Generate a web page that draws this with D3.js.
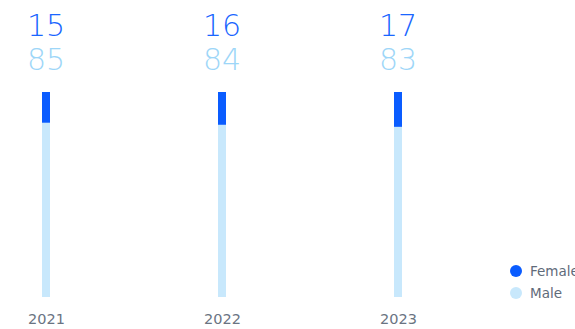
<!DOCTYPE html>
<html>
<head>
<meta charset="utf-8">
<script src="https://cdn.jsdelivr.net/npm/d3@7"></script>
<style>
  html, body { margin: 0; padding: 0; background: #fff; overflow: hidden; }
  svg { display: block; font-family: "DejaVu Sans", sans-serif; }
</style>
</head>
<body>
<svg id="chart" width="575" height="329"></svg>
<script>
// Share of staff by gender, per year (percent)
const years = ["2021", "2022", "2023"];
const female = [15, 16, 17];
const male = [85, 84, 83];
const seriesNames = ["Female", "Male"];
const seriesColors = ["#0a5cff", "#c8e8fc"];
const labelColors = ["#1a66ff", "#9dd6f8"];

const svg = d3.select("#chart");

const x = d3.scalePoint().domain(years).range([46, 398]);
const y = d3.scaleLinear().domain([0, 100]).range([297, 92]);
const barW = 8;

const rows = years.map((yr, i) => ({ year: yr, Female: female[i], Male: male[i] }));
const stack = d3.stack().keys(["Male", "Female"])(rows);

svg.append("g").selectAll("g").data(stack).join("g")
  .attr("fill", d => seriesColors[seriesNames.indexOf(d.key)])
  .selectAll("rect").data(d => d).join("rect")
  .attr("x", d => x(d.data.year) - barW / 2)
  .attr("y", d => y(d[1]))
  .attr("width", barW)
  .attr("height", d => y(d[0]) - y(d[1]));

// Value labels above each bar
const lbl = svg.append("g").attr("text-anchor", "middle")
  .style("font-weight", 200).style("font-size", "30px");
lbl.selectAll(".f").data(rows).join("text")
  .attr("x", d => x(d.year)).attr("y", 36)
  .attr("fill", labelColors[0]).text(d => d.Female);
lbl.selectAll(".m").data(rows).join("text")
  .attr("x", d => x(d.year)).attr("y", 70)
  .attr("fill", labelColors[1]).text(d => d.Male);

// Year axis
const axis = svg.append("g").attr("transform", "translate(0,314)")
  .call(d3.axisBottom(x).tickSize(0).tickPadding(0));
axis.select(".domain").remove();
axis.selectAll("text").attr("fill", "#6a7482").style("font-size", "14.5px")
  .style("font-family", "DejaVu Sans, sans-serif");

// Legend
const legend = svg.append("g").attr("transform", "translate(516,271)");
seriesNames.forEach((name, i) => {
  const g = legend.append("g").attr("transform", `translate(0,${i * 22})`);
  g.append("circle").attr("r", 6).attr("fill", seriesColors[i]);
  g.append("text").attr("x", 14).attr("dy", "0.35em")
    .attr("fill", "#5f6b7a").style("font-size", "13.5px").text(name);
});
</script>
</body>
</html>
